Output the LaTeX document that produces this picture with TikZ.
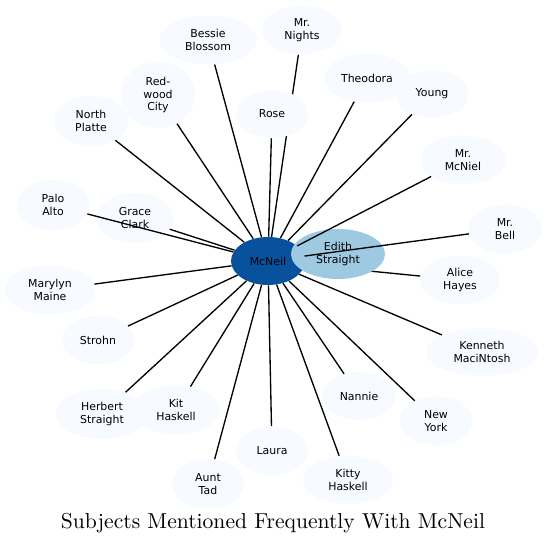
\documentclass[tikz,border=0pt]{standalone}
\usepackage{fontspec}
\usepackage{xcolor}
\usetikzlibrary{shapes.geometric}
\newfontfamily\labelfont{DejaVu Sans}
\definecolor{hub}{HTML}{08519C}
\definecolor{near}{HTML}{9ECAE1}
\definecolor{leaf}{HTML}{F7FBFF}
\pgfdeclarelayer{back}
\pgfsetlayers{back,main}

\begin{document}
\begin{tikzpicture}[
  x=0.75pt, y=-0.75pt,
  subj/.style={ellipse, fill=leaf, inner sep=0pt, align=center, font=\labelfont\fontsize{8.2}{9.6}\selectfont},
  sz/.style 2 args={minimum width=#1*0.75pt, minimum height=#2*0.75pt},
  link/.style={line width=1pt}
]
\useasboundingbox (0,0) rectangle (547,545);

% centre and the one close subject
\node[subj, fill=hub, sz={74}{48}] (mcneil) at (268,261) {McNeil};
\node[subj, sz={80}{48}] (alice) at (460,280) {Alice\\Hayes};
\node[subj, fill=near, sz={94}{50}] (edith) at (338,254) {Edith\\Straight};
\node[subj, sz={80}{49}] (nights) at (302,30) {Mr.\\Nights};
\node[subj, sz={72}{48}] (rose) at (272,114) {Rose};

% the rest of the ring
\node[subj, sz={97}{49}] (bessie) at (208,40) {Bessie\\Blossom};
\node[subj, sz={75}{50}] (platte) at (91,121) {North\\Platte};
\node[subj, sz={74}{66}] (redwood) at (158,95) {Red-\\wood\\City};
\node[subj, sz={85}{49}] (theodora) at (367,78) {Theodora};
\node[subj, sz={73}{48}] (young) at (432,94) {Young};
\node[subj, sz={85}{49}] (mcniel) at (463,160) {Mr.\\McNiel};
\node[subj, sz={73}{50}] (palo) at (53,205) {Palo\\Alto};
\node[subj, sz={77}{50}] (grace) at (135,218) {Grace\\Clark};
\node[subj, sz={73}{49}] (bell) at (505,229) {Mr.\\Bell};
\node[subj, sz={91}{49}] (marylyn) at (50,290) {Marylyn\\Maine};
\node[subj, sz={72}{49}] (strohn) at (98,340) {Strohn};
\node[subj, sz={112}{48}] (kenneth) at (482,352) {Kenneth\\MaciNtosh};
\node[subj, sz={73}{48}] (nannie) at (359,396) {Nannie};
\node[subj, sz={73}{49}] (newyork) at (436,421) {New\\York};
\node[subj, sz={92}{50}] (herbert) at (102,414) {Herbert\\Straight};
\node[subj, sz={88}{49}] (kit) at (176,410) {Kit\\Haskell};
\node[subj, sz={72}{49}] (laura) at (272,451) {Laura};
\node[subj, sz={73}{50}] (aunt) at (208,484) {Aunt\\Tad};
\node[subj, sz={90}{49}] (kitty) at (348,480) {Kitty\\Haskell};

% links hidden under other subjects
\begin{pgfonlayer}{back}
\draw[link] (mcneil) -- (alice);
\draw[link] (mcneil) -- (edith);
\draw[link] (mcneil) -- (nights);
\end{pgfonlayer}

\foreach \s in {rose,bessie,platte,redwood,theodora,young,mcniel,palo,grace,bell,
  marylyn,strohn,kenneth,nannie,newyork,herbert,kit,laura,aunt,kitty}
  \draw[link] (mcneil) -- (\s);

\node[scale=1.62, transform shape] (title) at (273,523) {Subjects Mentioned Frequently With McNeil};
\end{tikzpicture}
\end{document}
